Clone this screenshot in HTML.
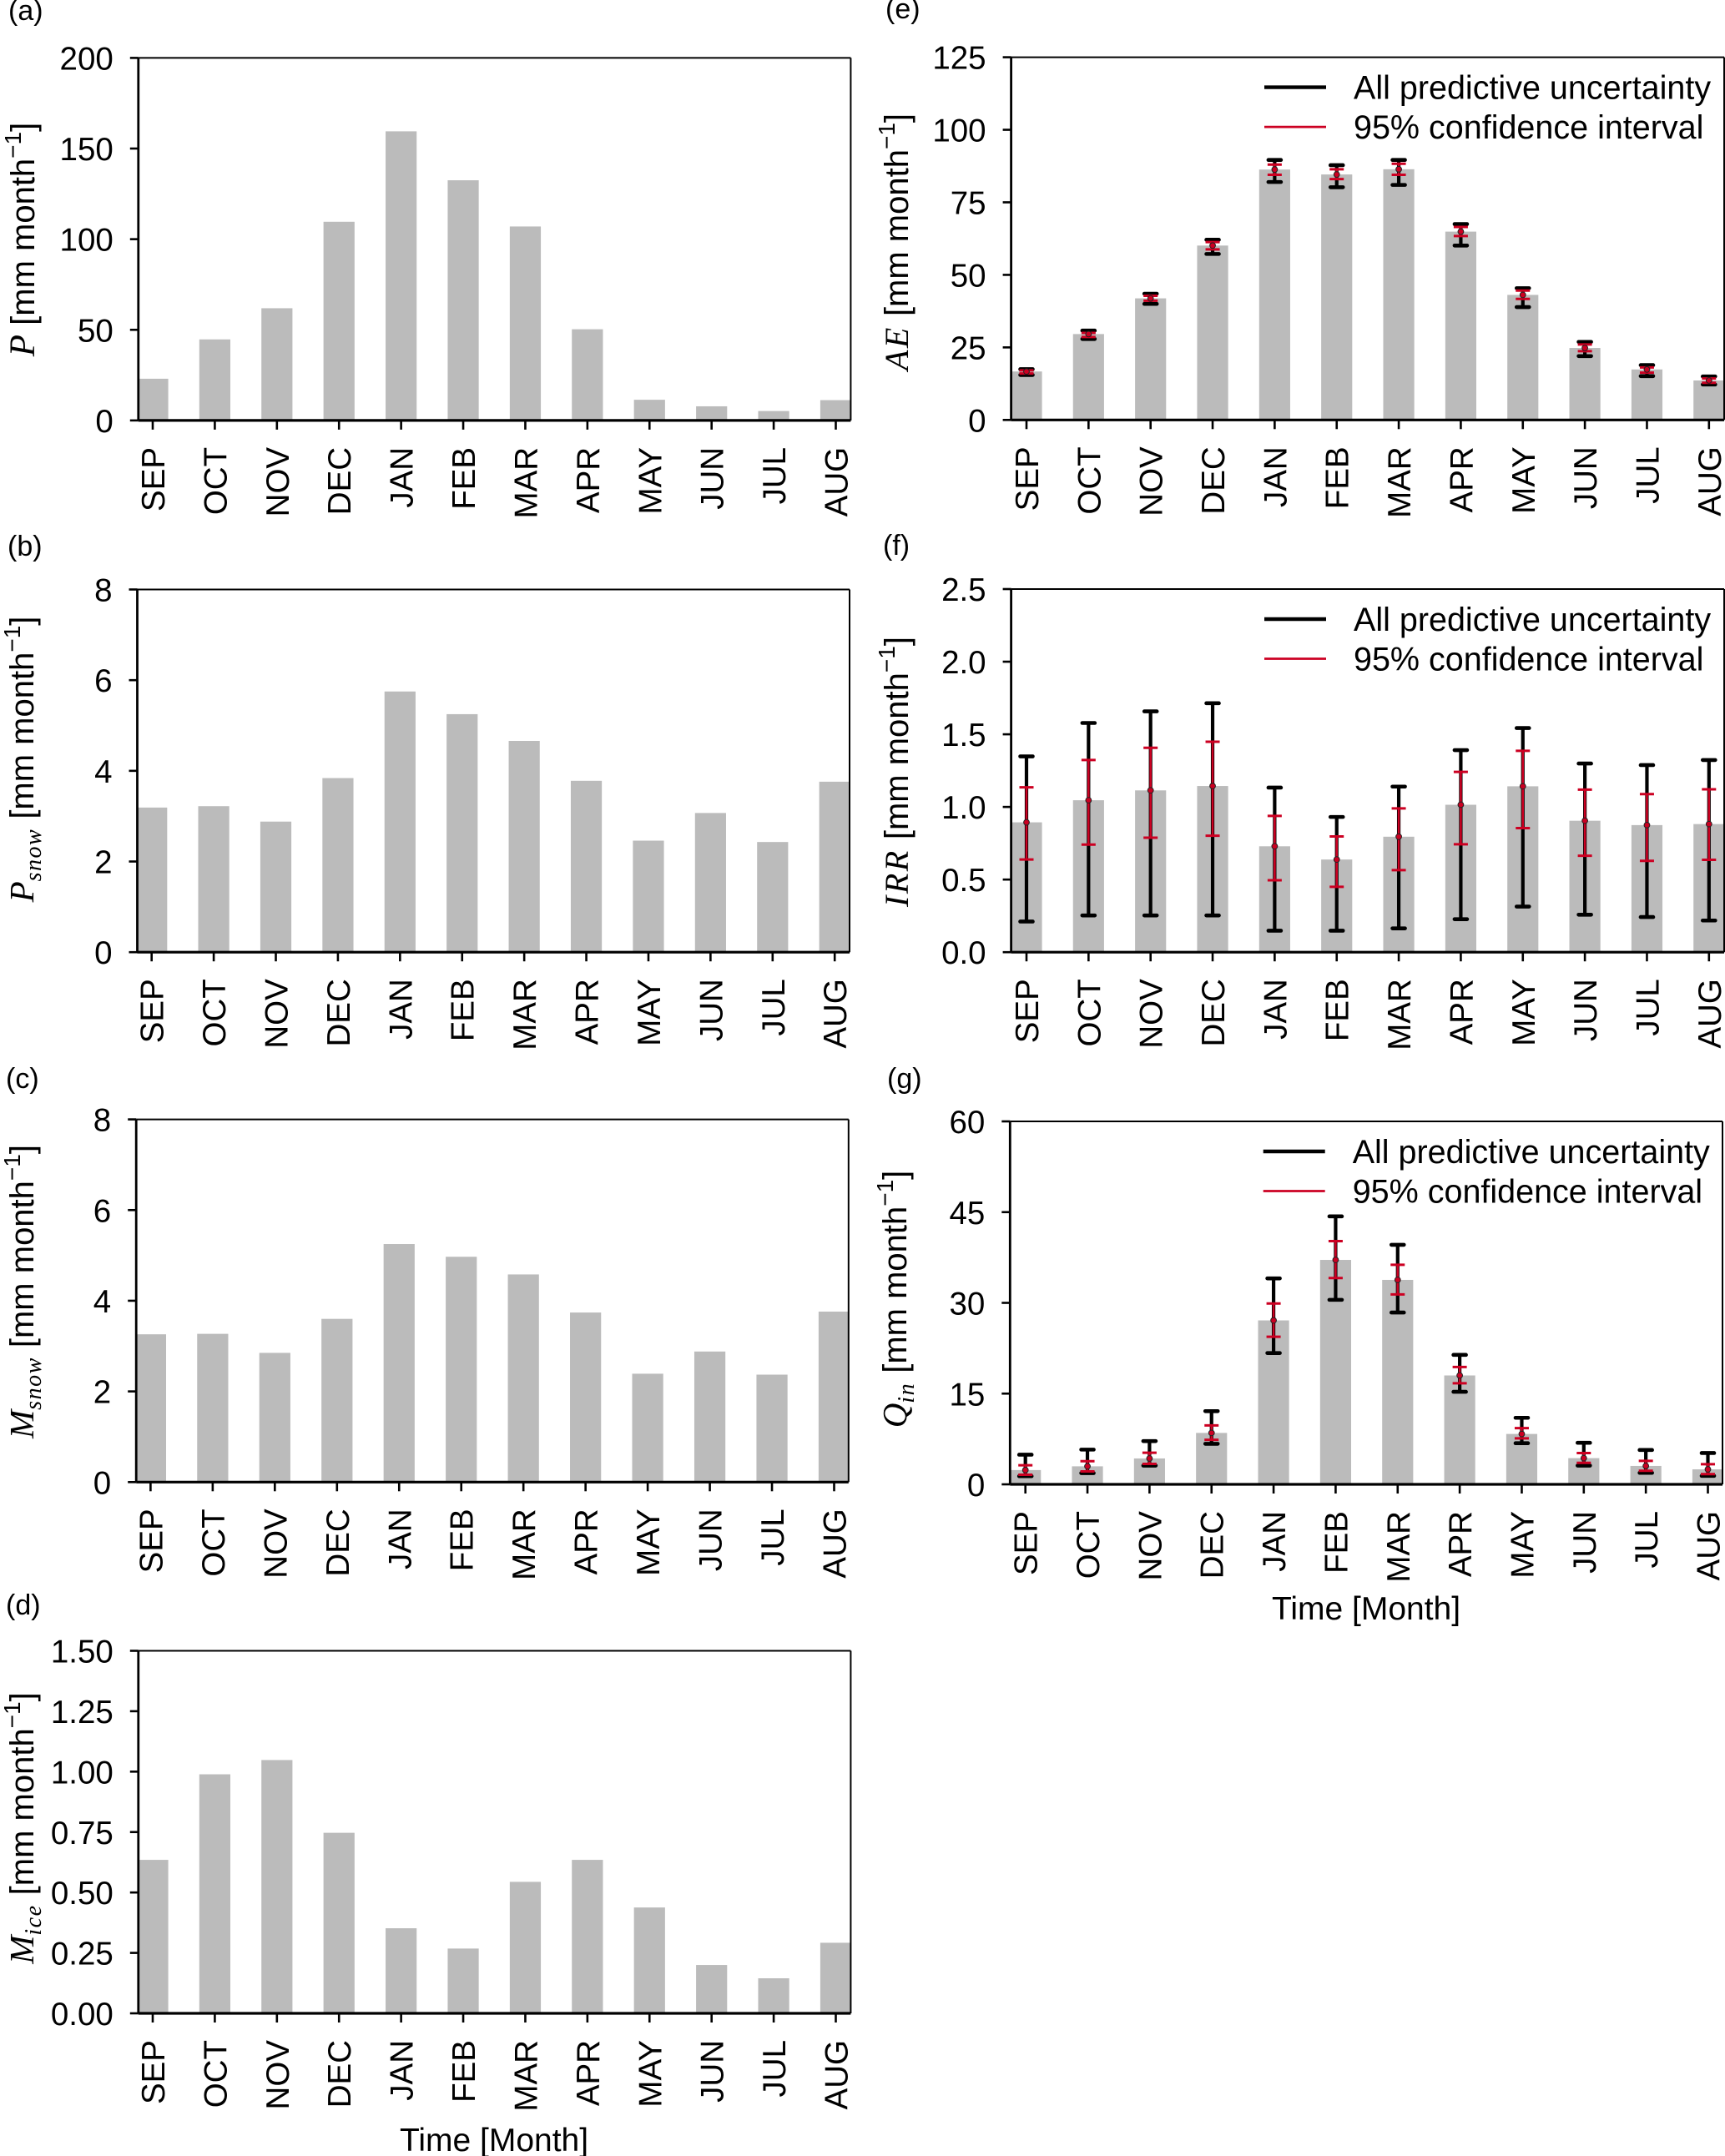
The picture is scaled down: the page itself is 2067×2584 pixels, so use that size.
<!DOCTYPE html>
<html lang="en">
<head>
<meta charset="utf-8">
<title>Monthly water balance components</title>
<style>
html,body{margin:0;padding:0;background:#fff;}
svg{display:block;}
text{font-family:"Liberation Sans",Arial,sans-serif;fill:#000;}
.math{font-family:"Liberation Serif",serif;font-style:italic;}
</style>
</head>
<body>
<svg id="figure" xmlns="http://www.w3.org/2000/svg" width="2067" height="2584" viewBox="0 0 2067 2584"></svg>
<script>
// ---- categories ----
const months = ['SEP','OCT','NOV','DEC','JAN','FEB','MAR','APR','MAY','JUN','JUL','AUG'];

// ---- tick labels ----
const ticksP = ['0','50','100','150','200'];
const ticksPsnow = ['0','2','4','6','8'];
const ticksMsnow = ['0','2','4','6','8'];
const ticksMice = ['0.00','0.25','0.50','0.75','1.00','1.25','1.50'];
const ticksAE = ['0','25','50','75','100','125'];
const ticksIRR = ['0.0','0.5','1.0','1.5','2.0','2.5'];
const ticksQin = ['0','15','30','45','60'];

// ---- series values ----
const valuesP = [23, 44.7, 61.9, 109.6, 159.5, 132.5, 107, 50.3, 11.4, 7.8, 5.2, 11.2];
const valuesPsnow = [3.19, 3.22, 2.88, 3.84, 5.75, 5.25, 4.66, 3.78, 2.46, 3.07, 2.43, 3.76];
const valuesMsnow = [3.26, 3.27, 2.85, 3.6, 5.25, 4.97, 4.58, 3.74, 2.39, 2.88, 2.37, 3.76];
const valuesMice = [0.635, 0.989, 1.048, 0.747, 0.352, 0.268, 0.544, 0.635, 0.438, 0.2, 0.145, 0.292];

const valuesAE = [16.7, 29.6, 41.9, 60.1, 86.3, 84.6, 86.4, 64.9, 43.1, 24.8, 17.4, 13.6];
const aeAllHigh = [17.5, 30.8, 43.5, 62.1, 89.6, 87.8, 89.6, 67.5, 45.4, 26.9, 18.9, 15];
const aeAllLow = [15.5, 27.9, 40, 57.2, 82, 80.2, 81, 60.1, 38.9, 22, 15.1, 12.2];
const aeCiHigh = [17.1, 30, 42.8, 61.3, 88, 86.4, 88.3, 66.5, 44.6, 26, 18.1, 14.3];
const aeCiLow = [16, 28.6, 41.1, 58.8, 84.5, 83, 84.5, 63.4, 41.7, 23.7, 16.3, 12.8];

const valuesIRR = [0.894, 1.046, 1.114, 1.144, 0.729, 0.638, 0.795, 1.015, 1.142, 0.905, 0.875, 0.882];
const irrAllHigh = [1.348, 1.578, 1.658, 1.714, 1.133, 0.931, 1.14, 1.391, 1.543, 1.299, 1.288, 1.323];
const irrAllLow = [0.211, 0.253, 0.253, 0.253, 0.148, 0.148, 0.164, 0.227, 0.314, 0.258, 0.242, 0.218];
const irrCiHigh = [1.135, 1.323, 1.407, 1.449, 0.938, 0.797, 0.99, 1.241, 1.386, 1.119, 1.088, 1.121];
const irrCiLow = [0.638, 0.741, 0.788, 0.802, 0.495, 0.45, 0.565, 0.743, 0.854, 0.664, 0.629, 0.636];

const valuesQin = [2.36, 2.98, 4.28, 8.5, 27.1, 37.1, 33.8, 18, 8.33, 4.33, 3.04, 2.48];
const qinAllHigh = [4.9, 5.74, 7.15, 12.1, 34.05, 44.3, 39.6, 21.4, 11, 6.87, 5.68, 5.18];
const qinAllLow = [1.35, 1.86, 3.1, 6.7, 21.7, 30.5, 28.4, 15.3, 6.8, 3.1, 1.9, 1.4];
const qinCiHigh = [3.15, 3.83, 5.23, 9.74, 29.9, 40.2, 36.3, 19.4, 9.3, 5.18, 3.88, 3.32];
const qinCiLow = [1.58, 2.14, 3.38, 7.37, 24.4, 34.1, 31.4, 16.7, 7.6, 3.55, 2.25, 1.69];

// ---- panels ----
const panels = [
 {id:'a',L:165.8,R:1019.4,T:69.4,B:503.9,first:183,last:1001.5,ticks:ticksP,vals:valuesP,
  sym:'P',sub:'',ls:0,symFs:43,labX:41,labY:287,tagX:10,tagY:24},
 {id:'b',L:164.5,R:1018,T:706.5,B:1141.2,first:181.7,last:1000.2,ticks:ticksPsnow,vals:valuesPsnow,
  sym:'P',sub:'snow',ls:0,symFs:41,labX:40,labY:910,tagX:9,tagY:666},
 {id:'c',L:163.2,R:1016.8,T:1341.6,B:1776.3,first:180.4,last:999.5,ticks:ticksMsnow,vals:valuesMsnow,
  sym:'M',sub:'snow',ls:0,symFs:41,labX:40,labY:1548,tagX:7,tagY:1304},
 {id:'d',L:165.8,R:1019.4,T:1978.5,B:2413,first:183,last:1001.5,ticks:ticksMice,vals:valuesMice,
  sym:'M',sub:'ice',ls:0,symFs:41,labX:40,labY:2191,tagX:7,tagY:1935,xlabel:[592,2578]},
 {id:'e',L:1211.6,R:2066,T:68.6,B:503.3,first:1230,last:2047.8,ticks:ticksAE,vals:valuesAE,
  sym:'AE',sub:'',ls:2.5,symFs:40,labX:1088,labY:290,tagX:1061,tagY:22,
  allHi:aeAllHigh,allLo:aeAllLow,ciHi:aeCiHigh,ciLo:aeCiLow},
 {id:'f',L:1211.6,R:2066,T:706,B:1141.2,first:1230,last:2047.8,ticks:ticksIRR,vals:valuesIRR,
  sym:'IRR',sub:'',ls:2.5,symFs:40,labX:1088,labY:925,tagX:1058,tagY:665,
  allHi:irrAllHigh,allLo:irrAllLow,ciHi:irrCiHigh,ciLo:irrCiLow},
 {id:'g',L:1210.3,R:2064,T:1344,B:1779,first:1228.7,last:2046.5,ticks:ticksQin,vals:valuesQin,
  sym:'Q',sub:'in',ls:0,symFs:41,labX:1086,labY:1557,tagX:1063,tagY:1304,xlabel:[1637,1941],
  allHi:qinAllHigh,allLo:qinAllLow,ciHi:qinCiHigh,ciLo:qinCiLow}
];

const NS = 'http://www.w3.org/2000/svg';
const svg = document.getElementById('figure');
const FS = 38.5;

function make(tag, geom, parent){
  const n = document.createElementNS(NS, tag);
  for (const k in geom) n.setAttribute(k, geom[k]);
  parent.appendChild(n);
  return n;
}

panels.forEach(function(p){
  const group = make('g', {}, svg);
  
  

  const ymax = Number(p.ticks[p.ticks.length - 1]);
  const yScale = function(v){ return p.B - (v / ymax) * (p.B - p.T); };
  const step = (p.last - p.first) / (months.length - 1);
  const xScale = function(i){ return p.first + i * step; };
  const barW = step * 0.5;

  // clip
  const defs = make('defs', {}, group);
  const clip = make('clipPath', {id:'clip-' + p.id}, defs);
  make('rect', {x:p.L, y:p.T, width:p.R - p.L, height:p.B - p.T}, clip);

  // panel tag
  const tag = make('text', {x:p.tagX, y:p.tagY, 'font-size':34}, group);
  tag.textContent = '(' + p.id + ')';
  
  

  // bars
  const bars = make('g', {'clip-path':'url(#clip-' + p.id + ')'}, group);
  
  
  p.vals.forEach(function(v, i){
    const yTop = yScale(v);
    const bar = make('rect', {x:xScale(i) - barW / 2, y:yTop, width:barW, height:p.B - yTop, fill:'#bbbbbb'}, bars);
    
    
  });

  // spines
  const sp = [
    ['top',p.L,p.T,p.R,p.T,2],
    ['right',p.R,p.T,p.R,p.B,2],
    ['left',p.L,p.T,p.L,p.B,2.8],
    ['bottom',p.L,p.B,p.R,p.B,3.2]
  ];
  sp.forEach(function(s){
    const line = make('line', {x1:s[1], y1:s[2], x2:s[3], y2:s[4], stroke:'#000', 'stroke-width':s[5]}, group);
    
    
  });

  // y ticks
  p.ticks.forEach(function(t){
    const y = yScale(Number(t));
    const tick = make('line', {x1:p.L - 10, y1:y, x2:p.L, y2:y, stroke:'#000', 'stroke-width':2.6}, group);
    
    
    const lab = make('text', {x:p.L - 30, y:y + 14, 'font-size':FS, 'text-anchor':'end'}, group);
    lab.textContent = t;
    
    
  });

  // x ticks
  months.forEach(function(m, i){
    const x = xScale(i);
    const tick = make('line', {x1:x, y1:p.B, x2:x, y2:p.B + 11, stroke:'#000', 'stroke-width':2.6}, group);
    
    
    const lab = make('text', {transform:'translate(' + (x + 14) + ',' + (p.B + 32) + ') rotate(-90)', 'font-size':FS, 'text-anchor':'end'}, group);
    lab.textContent = m;
    
    
  });

  // y axis title
  const yt = make('text', {transform:'translate(' + p.labX + ',' + p.labY + ') rotate(-90)', 'font-size':40, 'text-anchor':'middle'}, group);
  
  
  const symT = make('tspan', {'class':'math', 'font-size':p.symFs, 'letter-spacing':p.ls}, yt);
  symT.textContent = p.sym;
  if (p.sub) {
    const subT = make('tspan', {'class':'math', dy:9, 'font-size':28, 'letter-spacing':1.5}, yt);
    subT.textContent = p.sub;
  }
  const unitT = make('tspan', {dy:p.sub ? -9 : 0}, yt);
  unitT.textContent = ' [mm month';
  const supT = make('tspan', {dy:-16, 'font-size':28}, yt);
  supT.textContent = '\u22121';
  const closeT = make('tspan', {dy:16}, yt);
  closeT.textContent = ']';

  // x axis title
  if (p.xlabel) {
    const xt = make('text', {x:p.xlabel[0], y:p.xlabel[1], 'font-size':39, 'text-anchor':'middle'}, group);
    xt.textContent = 'Time [Month]';
    
    
  }

  // error bars + legend
  if (p.allHi) {
    const hw = 7.5;
    p.vals.forEach(function(v, i){
      const x = xScale(i);
      const eb = make('g', {}, group);
      
      
      make('line', {x1:x, y1:yScale(p.allHi[i]), x2:x, y2:yScale(p.allLo[i]), stroke:'#000', 'stroke-width':4.2}, eb);
      [p.allHi[i], p.allLo[i]].forEach(function(c){
        make('line', {x1:x - hw, y1:yScale(c), x2:x + hw, y2:yScale(c), stroke:'#000', 'stroke-width':4.6, 'stroke-linecap':'round'}, eb);
      });
      make('line', {x1:x, y1:yScale(p.ciHi[i]), x2:x, y2:yScale(p.ciLo[i]), stroke:'#cc0022', 'stroke-width':2.6}, eb);
      [p.ciHi[i], p.ciLo[i]].forEach(function(c){
        make('line', {x1:x - 8.5, y1:yScale(c), x2:x + 8.5, y2:yScale(c), stroke:'#cc0022', 'stroke-width':3}, eb);
      });
      make('circle', {cx:x, cy:yScale(v), r:3.4, fill:'#cc0022', stroke:'#222', 'stroke-width':1}, eb);
    });

    const legend = make('g', {}, group);
    
    
    const dx = p.L - 1211.6;
    const y1 = p.T + 36;
    const y2 = p.T + 83.5;
    const l1 = make('line', {x1:1515 + dx, y1:y1, x2:1589 + dx, y2:y1, stroke:'#000', 'stroke-width':4.4}, legend);
    
    
    const t1 = make('text', {x:1622 + dx, y:y1 + 14, 'font-size':39.5}, legend);
    t1.textContent = 'All predictive uncertainty';
    
    
    const l2 = make('line', {x1:1515 + dx, y1:y2, x2:1589 + dx, y2:y2, stroke:'#cc0022', 'stroke-width':2.8}, legend);
    
    
    const t2 = make('text', {x:1622 + dx, y:y2 + 14, 'font-size':39.5}, legend);
    t2.textContent = '95% confidence interval';
    
    
  }
});
</script>
</body>
</html>
